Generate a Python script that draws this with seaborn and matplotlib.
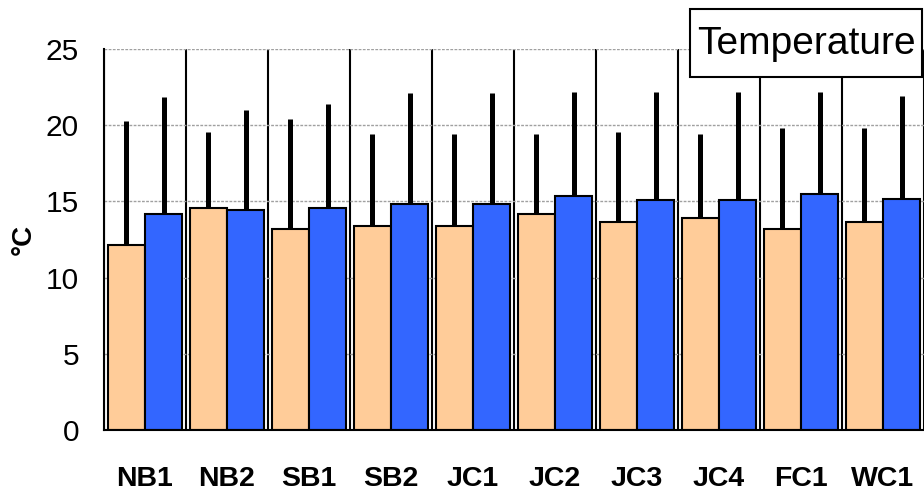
import numpy as np
import pandas as pd
import matplotlib
matplotlib.use("Agg")
import matplotlib.pyplot as plt
from matplotlib.patches import Rectangle
import seaborn as sns

# Site means and upper SD
sites = ['NB1', 'NB2', 'SB1', 'SB2', 'JC1', 'JC2', 'JC3', 'JC4', 'FC1', 'WC1']
series_a_mean = [12.15, 14.56, 13.2, 13.4, 13.4, 14.15, 13.64, 13.9, 13.22, 13.64]
series_a_sd = [8.1, 5.0, 7.2, 6.05, 6.05, 5.3, 5.9, 5.55, 6.6, 6.2]
series_b_mean = [14.16, 14.43, 14.56, 14.8, 14.8, 15.35, 15.07, 15.07, 15.46, 15.18]
series_b_sd = [7.7, 6.6, 6.85, 7.3, 7.3, 6.85, 7.1, 7.1, 6.75, 6.75]
series_names = ['A', 'B']
colors = ['#FFCC99', '#3366FF']

df = pd.DataFrame({
    'site': sites * 2,
    'series': [series_names[0]] * len(sites) + [series_names[1]] * len(sites),
    'temp': series_a_mean + series_b_mean,
})

sns.set_style("white")
plt.rcParams['font.family'] = ['Liberation Sans', 'DejaVu Sans']
plt.rcParams.update({'text.color': 'black', 'axes.labelcolor': 'black',
                     'xtick.color': 'black', 'ytick.color': 'black'})

fig = plt.figure(figsize=(9.24, 4.96), dpi=100)
ax = fig.add_axes([104 / 924, 1 - 430 / 496, 820 / 924, 381 / 496])

sns.barplot(data=df, x='site', y='temp', hue='series', palette=colors,
            width=0.91, edgecolor='black', linewidth=1.5, saturation=1,
            legend=False, ax=ax, zorder=2)

# upward-only error bars
for cont, sd in zip(ax.containers, [series_a_sd, series_b_sd]):
    xs = [p.get_x() + p.get_width() / 2 for p in cont]
    hs = [p.get_height() for p in cont]
    ax.errorbar(xs, hs, yerr=[np.zeros(len(sd)), sd], fmt='none',
                ecolor='black', elinewidth=3.6, capsize=0, zorder=1)

ax.set_xlim(-0.5, len(sites) - 0.5)
ax.set_ylim(0, 25)
ax.set_yticks([0, 5, 10, 15, 20, 25])
ax.set_xticks(np.arange(len(sites) + 1) - 0.5, minor=True)

ax.set_axisbelow(True)
ax.yaxis.grid(True, color='#a0a0a0', linestyle=(0, (2, 1)), linewidth=1)
ax.xaxis.grid(True, which='minor', color='black', linewidth=1.5)
ax.xaxis.grid(False, which='major')

for s in ['top', 'right']:
    ax.spines[s].set_visible(False)
for s in ['left', 'bottom']:
    ax.spines[s].set_color('black')
    ax.spines[s].set_linewidth(1.5)

ax.tick_params(axis='x', which='major', length=0, pad=26, labelsize=20.5)
ax.tick_params(axis='x', which='minor', length=8, width=1.5, direction='out', color='black')
ax.tick_params(axis='y', length=8, width=1.5, direction='out', color='black',
               pad=10, labelsize=21.5)
for lab in ax.get_xticklabels():
    lab.set_fontweight('bold')

ax.set_xlabel('')
ax.set_ylabel('°C', fontsize=20, fontweight='bold')
ax.yaxis.set_label_coords(-0.082, 0.5)

# title box
fig.add_artist(Rectangle((690 / 924, 1 - 77 / 496), 232 / 924, 68 / 496,
                         transform=fig.transFigure, facecolor='white',
                         edgecolor='black', linewidth=1.5, zorder=5))
fig.text(806 / 924, 1 - 44 / 496, 'Temperature', ha='center', va='center',
         fontsize=28, zorder=6)

fig.savefig('out.png', dpi=100)
plt.close(fig)
